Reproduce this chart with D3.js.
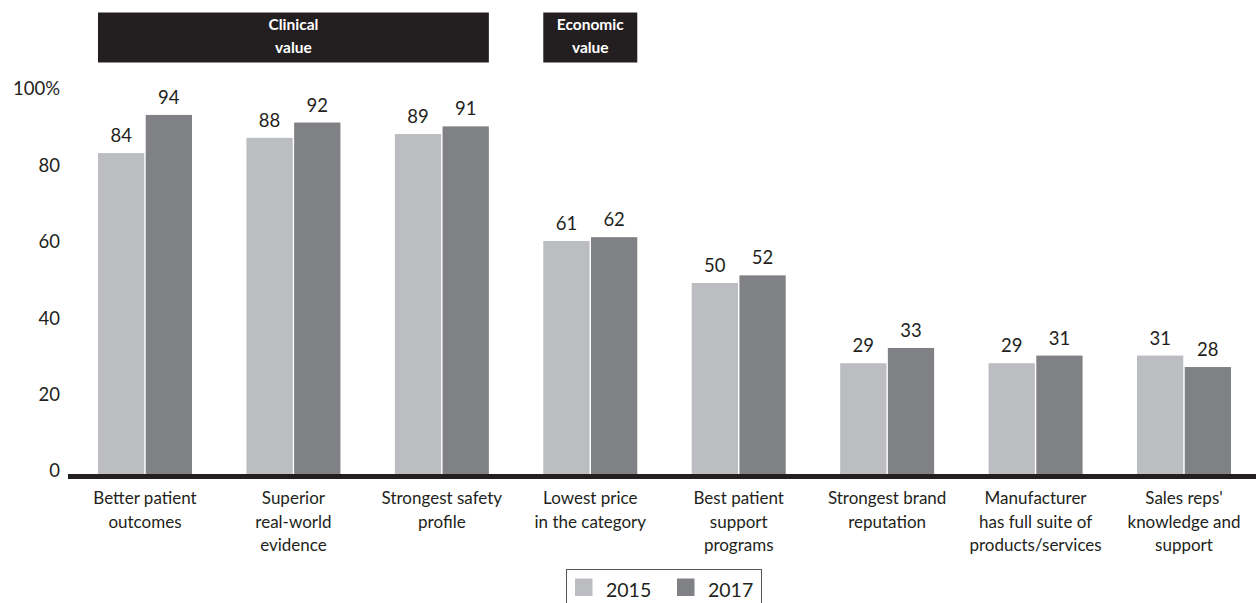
<!DOCTYPE html>
<html>
<head>
<meta charset="utf-8">
<script src="https://cdn.jsdelivr.net/npm/d3@7"></script>
<style>
  html, body { margin: 0; padding: 0; background: #fff; }
  svg { display: block; font-family: Lato, "DejaVu Sans", sans-serif; }
</style>
</head>
<body>
<svg id="chart" width="1256" height="603"></svg>
<script>
// ---- data ----
const categories = [
  "Better patient\noutcomes",
  "Superior\nreal-world\nevidence",
  "Strongest safety\nprofile",
  "Lowest price\nin the category",
  "Best patient\nsupport\nprograms",
  "Strongest brand\nreputation",
  "Manufacturer\nhas full suite of\nproducts/services",
  "Sales reps'\nknowledge and\nsupport"
];
const seriesNames = ["2015", "2017"];
const values2015 = [84, 88, 89, 61, 50, 29, 29, 31];
const values2017 = [94, 92, 91, 62, 52, 33, 31, 28];
const yTicks = [0, 20, 40, 60, 80, 100];
const groupLabels = ["Clinical\nvalue", "Economic\nvalue"];
const groupSpans = [[0, 2], [3, 3]];

// ---- styles ----
const colors = { "2015": "#bcbdc1", "2017": "#808185" };
const ink = "#231f20";

const svg = d3.select("#chart");

const x = d3.scaleBand().domain(categories).range([70, 1259])
  .paddingInner(0.3667).paddingOuter(0.1886);
const xs = d3.scaleBand().domain(seriesNames).range([0, x.bandwidth()]).paddingInner(0.03);
const y = d3.scaleLinear().domain([0, 100]).range([474, 92]);

const seriesValues = { "2015": values2015, "2017": values2017 };

// y tick labels
svg.append("g").selectAll("text").data(yTicks).join("text")
  .attr("x", 60)
  .attr("y", d => y(d) - 3)
  .attr("dy", "0.35em")
  .attr("text-anchor", "end")
  .attr("font-size", 18.5)
  .attr("fill", ink)
  .text(d => d === 100 ? "100%" : d);

// bars
const groups = svg.append("g").selectAll("g").data(categories).join("g")
  .attr("transform", d => `translate(${x(d)},0)`);

groups.selectAll("rect").data((c, i) => seriesNames.map(s => ({ s, v: seriesValues[s][i] })))
  .join("rect")
  .attr("x", d => xs(d.s))
  .attr("width", xs.bandwidth())
  .attr("y", d => y(d.v))
  .attr("height", d => y(0) - y(d.v))
  .attr("fill", d => colors[d.s]);

groups.selectAll("text.val").data((c, i) => seriesNames.map(s => ({ s, v: seriesValues[s][i] })))
  .join("text")
  .attr("class", "val")
  .attr("x", d => xs(d.s) + xs.bandwidth() / 2)
  .attr("y", d => y(d.v) - 11)
  .attr("text-anchor", "middle")
  .attr("font-size", 18.5)
  .attr("fill", ink)
  .text(d => d.v);

// baseline
svg.append("rect")
  .attr("x", 68).attr("width", 1256 - 68)
  .attr("y", y(0)).attr("height", 5)
  .attr("fill", ink);

// category labels
const catLabels = svg.append("g").selectAll("text").data(categories).join("text")
  .attr("text-anchor", "middle")
  .attr("font-size", 17)
  .attr("fill", ink);
catLabels.selectAll("tspan").data(d => d.split("\n").map(t => ({ t, c: d })))
  .join("tspan")
  .attr("x", d => x(d.c) + x.bandwidth() / 2)
  .attr("y", (d, i) => 504 + i * 23.6)
  .text(d => d.t);

// banners
const banners = svg.append("g").selectAll("g").data(groupLabels).join("g");
banners.append("rect")
  .attr("x", (d, i) => x(categories[groupSpans[i][0]]))
  .attr("width", (d, i) => x(categories[groupSpans[i][1]]) + x.bandwidth() - x(categories[groupSpans[i][0]]))
  .attr("y", 12.5).attr("height", 50)
  .attr("fill", ink);
banners.each(function(d, i) {
  const cx = (x(categories[groupSpans[i][0]]) + x(categories[groupSpans[i][1]]) + x.bandwidth()) / 2;
  d3.select(this).append("text")
    .attr("text-anchor", "middle")
    .attr("font-size", 15.5)
    .attr("font-weight", 700)
    .attr("fill", "#fff")
    .selectAll("tspan").data(d.split("\n")).join("tspan")
    .attr("x", cx)
    .attr("y", (t, j) => 30 + j * 23)
    .text(t => t);
});

// legend
const lg = svg.append("g");
lg.append("rect")
  .attr("x", 566.5).attr("y", 569.5)
  .attr("width", 195).attr("height", 60)
  .attr("fill", "#fff").attr("stroke", "#555").attr("stroke-width", 1);
const legendItems = lg.selectAll("g").data(seriesNames).join("g")
  .attr("transform", (d, i) => `translate(${575 + i * 102},0)`);
legendItems.append("rect")
  .attr("x", 0).attr("y", 578.5).attr("width", 17.5).attr("height", 17.5)
  .attr("fill", d => colors[d]);
legendItems.append("text")
  .attr("x", 31).attr("y", 596.5)
  .attr("font-size", 19.5)
  .attr("fill", ink)
  .text(d => d);
</script>
</body>
</html>
